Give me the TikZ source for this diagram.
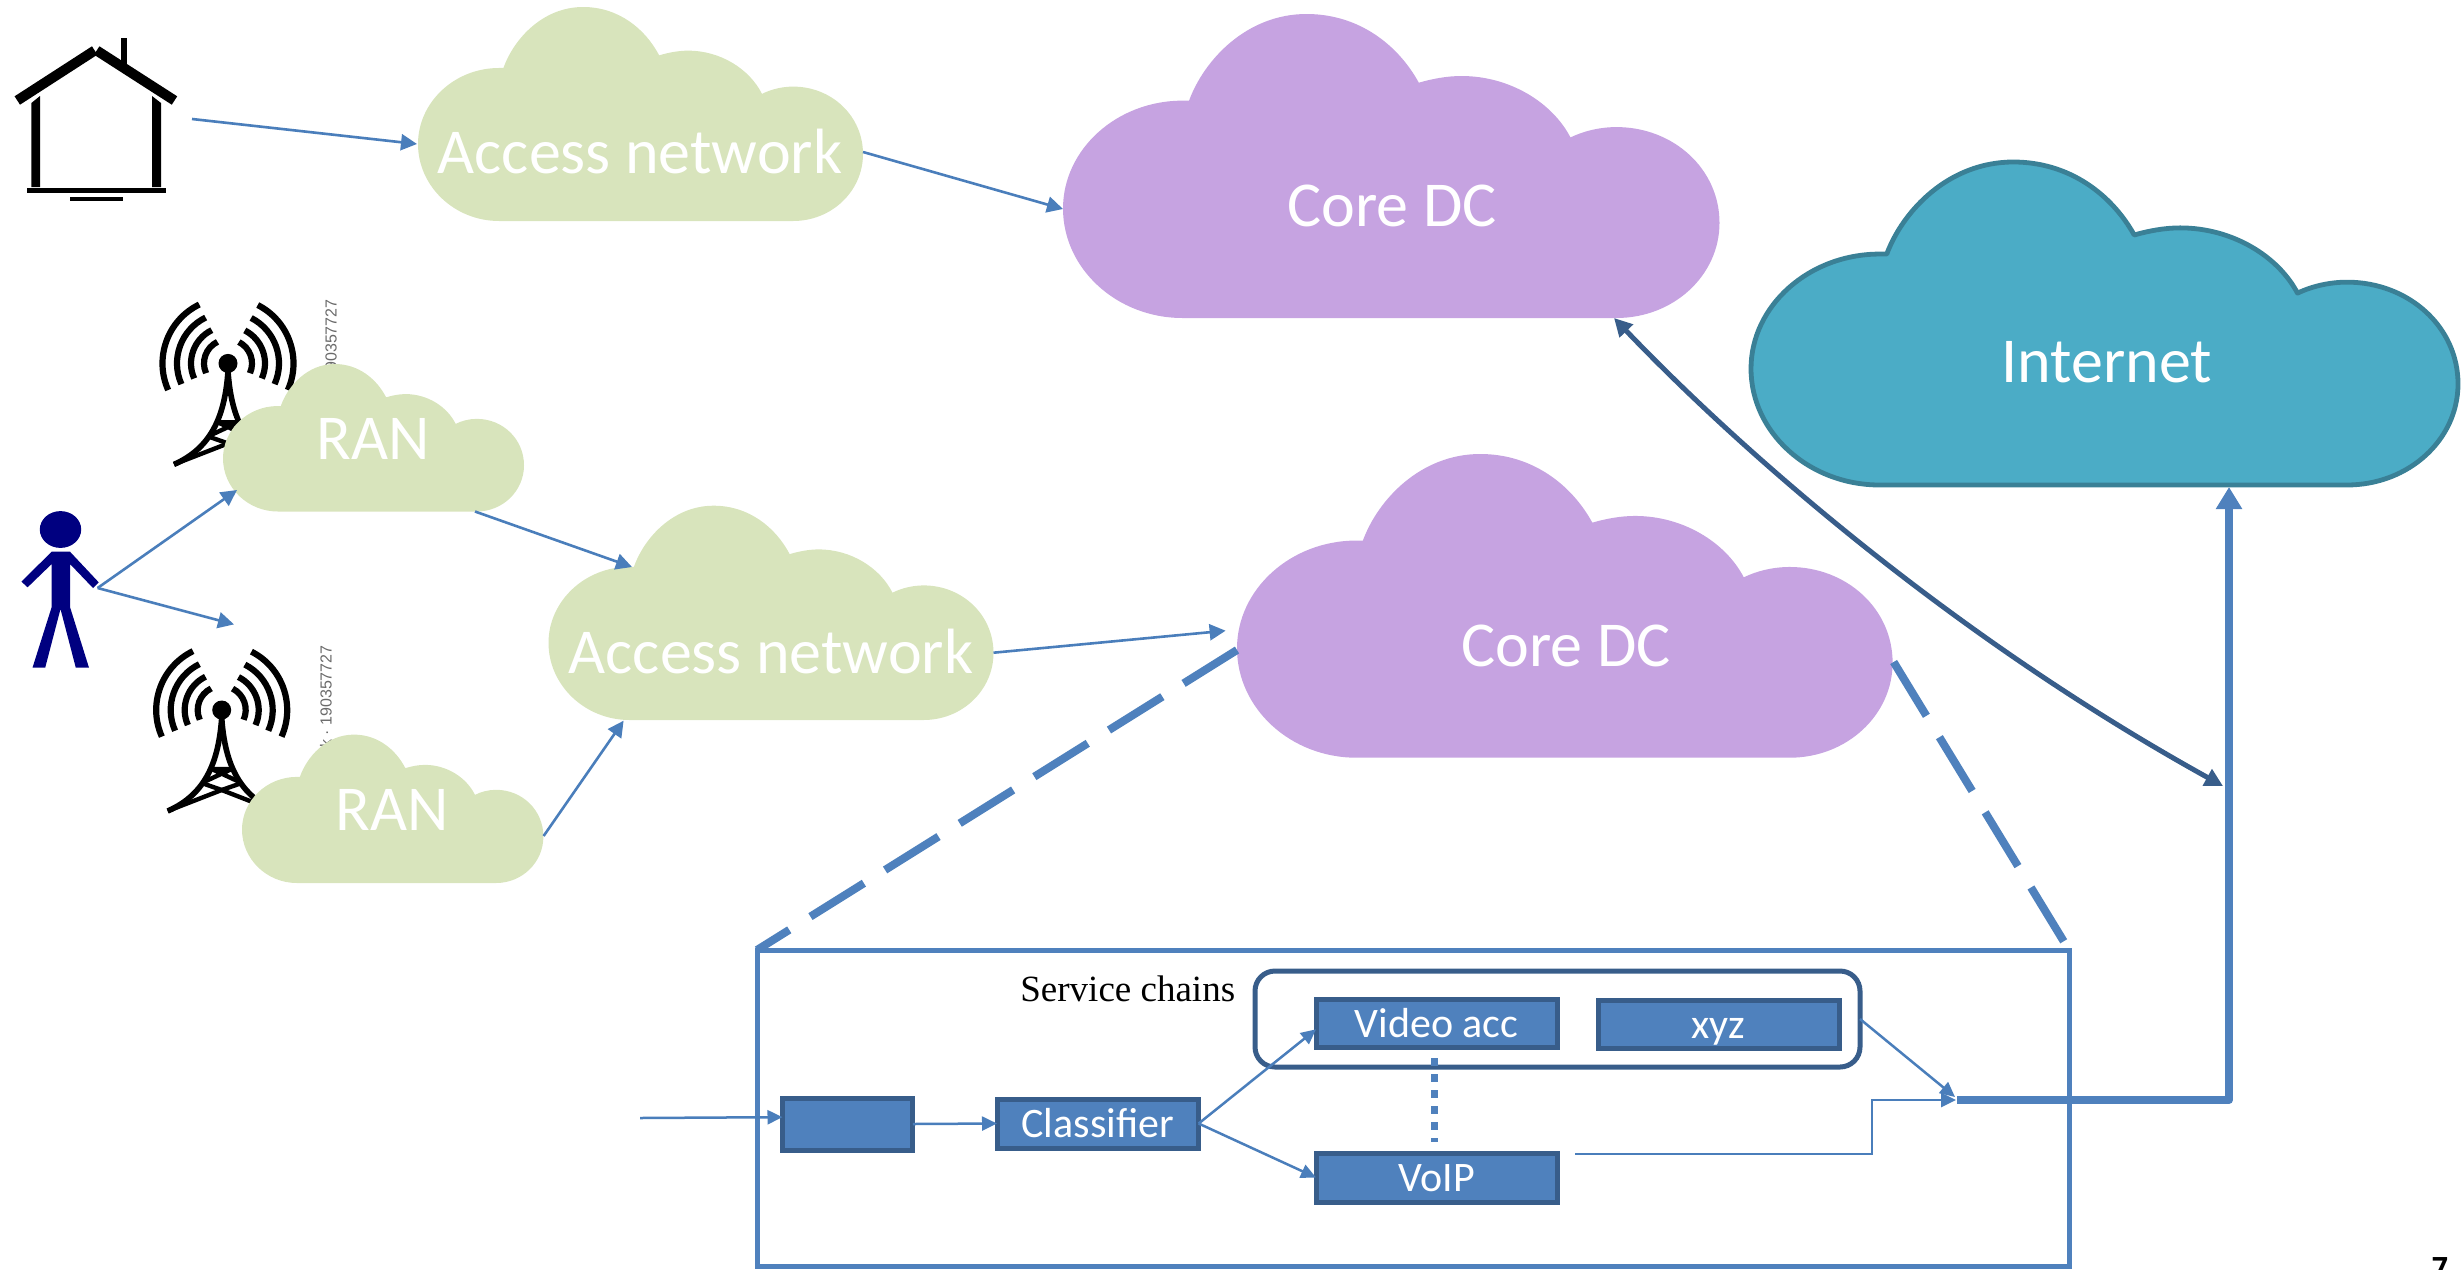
\documentclass[tikz,border=0pt]{standalone}
\usepackage{fontspec}
\setmainfont{Carlito}
\newfontfamily\timesf{Liberation Serif}
\newfontfamily\arialf{Liberation Sans}
\newfontfamily\numf{Open Sans}
\usetikzlibrary{arrows.meta}
\definecolor{linkblue}{HTML}{4A7EBB}
\definecolor{boxblue}{HTML}{4F81BD}
\definecolor{darkblue}{HTML}{385D8A}
\definecolor{cloudgreen}{HTML}{D8E4BC}
\definecolor{cloudpurple}{HTML}{C6A3E1}
\definecolor{cloudteal}{HTML}{4BACC6}
\definecolor{tealedge}{HTML}{3A8096}
\definecolor{mannavy}{HTML}{000080}
\definecolor{markgray}{HTML}{6A6A6A}
\tikzset{
  thinlink/.style={draw=linkblue,line width=1.3pt,-{Triangle[length=8pt,width=8pt]}},
  boxlink/.style={draw=linkblue,line width=1.25pt,-{Triangle[length=7.5pt,width=7pt]}},
  zoomdash/.style={draw=boxblue,line width=4pt,dash pattern=on 31.5pt off 12.5pt},
  uplink/.style={draw=boxblue,line width=4pt,line join=round,-{Triangle[length=11pt,width=12.5pt]}},
  corelink/.style={draw=darkblue,line width=2.5pt,{Triangle[length=9pt,width=9pt]}-{Triangle[length=9pt,width=9pt]}},
  procbox/.style={draw=darkblue,fill=boxblue,line width=2.5pt,inner sep=0pt,outer sep=0pt,text=white,text height=15pt,text depth=1pt,font=\fontsize{21}{25}\selectfont},
  cloudtext/.style={anchor=base,text=white,inner sep=0pt,font=\fontsize{32}{38}\selectfont},
  markstyle/.style={rotate=90,anchor=east,text=markgray,inner sep=0pt,font=\arialf\fontsize{8}{10}\selectfont},
}
% name, x0, y0, x1, y1, path style
\newcommand{\cloudshape}[6]{%
  \path[#6,shift={(#2,#3)},xscale={#4-#2},yscale={#5-#3}]
    (.182,1) .. controls (.082,1) and (0,.838) .. (0,.64)
    .. controls (0,.445) and (.082,.285) .. (.182,.285) -- (.192,.285)
    .. controls (.215,.15) and (.28,0) .. (.371,0)
    .. controls (.45,0) and (.51,.10) .. (.542,.226)
    .. controls (.563,.213) and (.585,.204) .. (.607,.204)
    .. controls (.68,.204) and (.745,.29) .. (.773,.406)
    .. controls (.793,.385) and (.818,.372) .. (.843,.372)
    .. controls (.93,.372) and (1,.51) .. (1,.687)
    .. controls (1,.86) and (.93,1) .. (.843,1) -- cycle;
  \coordinate (#1) at ({(#2+#4)/2},{(#3+#5)/2});
}
% ball position
\newcommand{\antenna}[2]{%
  \begin{scope}[shift={(#1,#2)}]
    \foreach \r in {24,37,51,65.5}{
      \draw[line width=3.1pt] ({\r*cos(116)},{-\r*sin(116)}) arc[start angle=-116,end angle=-204,radius=\r];
      \draw[line width=3.1pt] ({\r*cos(63)},{-\r*sin(63)}) arc[start angle=-63,end angle=24,radius=\r];
    }
    \fill (0,0) circle[radius=9.5];
    \draw[line width=2.8pt] (0,8) .. controls (-3,50) and (-15,84) .. (-54,101);
    \draw[line width=2.8pt] (0,8) .. controls (3,50) and (15,84) .. (54,101);
    \draw[line width=2.2pt] (-10,59) -- (10,59) (-10,59) -- (20,73) (10,59) -- (-20,73);
    \draw[line width=2.2pt] (-20,73) -- (0,80) -- (20,73);
    \draw[line width=2.2pt] (-54,101) -- (0,80) -- (54,101);
  \end{scope}
}
\begin{document}
\begin{tikzpicture}[x=0.5pt,y=-0.5pt]
\useasboundingbox (0,0) rectangle (2461,1269);
\clip (0,0) rectangle (2461,1269);

% house
\draw[line width=5pt] (17.3,100.5) -- (94.7,50.5);
\draw[line width=5pt] (96.7,50.5) -- (174.5,100.5);
\fill (120.5,38) rectangle (127.4,68);
\fill (31.4,103) -- (40,96) -- (40,187) -- (31.4,187) -- cycle;
\fill (152,96) -- (161,103) -- (161,187) -- (152,187) -- cycle;
\fill (27,187.5) rectangle (166,192.8);
\fill (70,196.5) rectangle (122.5,200.8);

% antennas and stock marks
\antenna{228}{363.4}
\antenna{221.7}{710}
\node[markstyle] (markone) at (331,299) {190357727};
\node[markstyle] (marktwo) at (326,645) {k · 190357727};

% person
\fill[mannavy] (60.5,529.5) ellipse[x radius=20.7,y radius=18.4];
\fill[mannavy] (51.7,551.7) -- (70,551.7) -- (98.7,582.3) -- (93,588) -- (70,564) -- (70,607) -- (89,667.7) -- (75.8,667.7) -- (60.5,609) -- (45.2,667.7) -- (32.5,667.7) -- (51.7,607) -- (51.7,564) -- (27.6,587.3) -- (21.4,581.6) -- cycle;

% clouds
\cloudshape{accone}{418}{7}{863}{221}{fill=cloudgreen}
\cloudshape{ranone}{223}{364}{524}{511.5}{fill=cloudgreen}
\cloudshape{rantwo}{242}{734.6}{543.4}{883}{fill=cloudgreen}
\cloudshape{acctwo}{548.5}{505.7}{993.5}{720}{fill=cloudgreen}
\cloudshape{coreone}{1063}{14}{1719.5}{318}{fill=cloudpurple}
\cloudshape{coretwo}{1237}{454}{1892.6}{757.7}{fill=cloudpurple}
\cloudshape{internet}{1751}{162}{2458}{485}{fill=cloudteal,draw=tealedge,line width=2.4pt,line join=round}

\node[cloudtext] (acconetext) at (640,173) {Access network};
\node[cloudtext] (ranonetext) at (373.5,459) {RAN};
\node[cloudtext] (rantwotext) at (392.5,830) {RAN};
\node[cloudtext] (acctwotext) at (771,673) {Access network};
\node[cloudtext] (coreonetext) at (1392,226) {Core DC};
\node[cloudtext] (coretwotext) at (1566,666) {Core DC};
\node[cloudtext] (internettext) at (2107,382) {Internet};

% ports
\coordinate (houseout) at (192,119);
\coordinate (acconein) at (417,144);
\coordinate (acconeout) at (863,152);
\coordinate (coreonein) at (1063,209);
\coordinate (manhand) at (97.6,588);
\coordinate (ranonein) at (237,490);
\coordinate (rantwoin) at (234,624.4);
\coordinate (ranoneout) at (475,511.5);
\coordinate (acctwoinA) at (632,567);
\coordinate (rantwoout) at (543.6,836);
\coordinate (acctwoinB) at (623.6,720.7);
\coordinate (acctwoout) at (993.5,652.7);
\coordinate (coretwoin) at (1225.6,630.7);
\coordinate (coretwoL) at (1237,650);
\coordinate (coretwoR) at (1893.6,662);
\coordinate (coreonebot) at (1614,318);
\coordinate (uplinkpoint) at (2223,786);
\coordinate (internetbot) at (2229,487);
\coordinate (merge) at (1956,1100);
\coordinate (mergetail) at (1957,1100);
\coordinate (bendcorner) at (2229,1100);
\coordinate (input) at (640,1118);
\coordinate (voipout) at (1575,1154);
\coordinate (voipbendA) at (1872,1154);
\coordinate (voipbendB) at (1872,1100);
\coordinate (xyzin) at (1955,1097);
\coordinate (dotstart) at (1434,1058);
\coordinate (dotend) at (1434,1142);

% inset box
\node[draw=boxblue,line width=2.5pt,inner sep=0pt,outer sep=0pt,minimum width=656pt,minimum height=158pt] (inset) at (1413,1108) {};
\node[draw=darkblue,line width=2.5pt,rounded corners=10pt,inner sep=0pt,outer sep=0pt,minimum width=302.5pt,minimum height=48pt] (chain) at (1557.5,1019) {};
\node[anchor=base west,inner sep=0pt,font=\timesf\fontsize{18.5}{22}\selectfont] (chainlabel) at (1020,1001) {Service chains};
\node[procbox,minimum width=120.5pt,minimum height=24pt] (video) at (1436.5,1023) {Video acc};
\node[procbox,minimum width=120.5pt,minimum height=24pt] (xyz) at (1718.5,1024) {xyz};
\node[procbox,minimum width=100.8pt,minimum height=24.5pt] (classifier) at (1097.8,1123.5) {Classifier};
\node[procbox,minimum width=65.2pt,minimum height=26pt] (blank) at (847.7,1124) {};
\node[procbox,minimum width=120.5pt,minimum height=24.5pt] (voip) at (1436.5,1177.5) {VoIP};

% connectors
\draw[thinlink] (houseout) -- (acconein);
\draw[thinlink] (acconeout) -- (coreonein);
\draw[thinlink] (manhand) -- (ranonein);
\draw[thinlink] (manhand) -- (rantwoin);
\draw[thinlink] (ranoneout) -- (acctwoinA);
\draw[thinlink] (rantwoout) -- (acctwoinB);
\draw[thinlink] (acctwoout) -- (coretwoin);
\draw[zoomdash] (coretwoL) -- (inset.north west);
\draw[zoomdash] (coretwoR) -- (inset.north east);
\draw[corelink] (coreonebot) .. controls (1740,450) and (1950,635) .. (uplinkpoint);
\draw[uplink] (mergetail) -- (bendcorner) -- (internetbot);
\draw[boxlink] (input) -- (blank.174.8);
\draw[boxlink] (blank.east) -- (classifier.west);
\draw[boxlink] (classifier.east) -- (video.183.6);
\draw[boxlink] (classifier.east) -- (voip.west);
\draw[boxlink] (chain.east) -- (xyzin);
\draw[boxlink] (voipout) -- (voipbendA) -- (voipbendB) -- (merge);
\draw[draw=boxblue,line width=3.5pt,dash pattern=on 4pt off 4pt] (dotstart) -- (dotend);

% page number
\node[anchor=base,inner sep=0pt,font=\numf\bfseries\fontsize{14}{17}\selectfont] (pagenum) at (2440,1277) {7};
\end{tikzpicture}
\end{document}
